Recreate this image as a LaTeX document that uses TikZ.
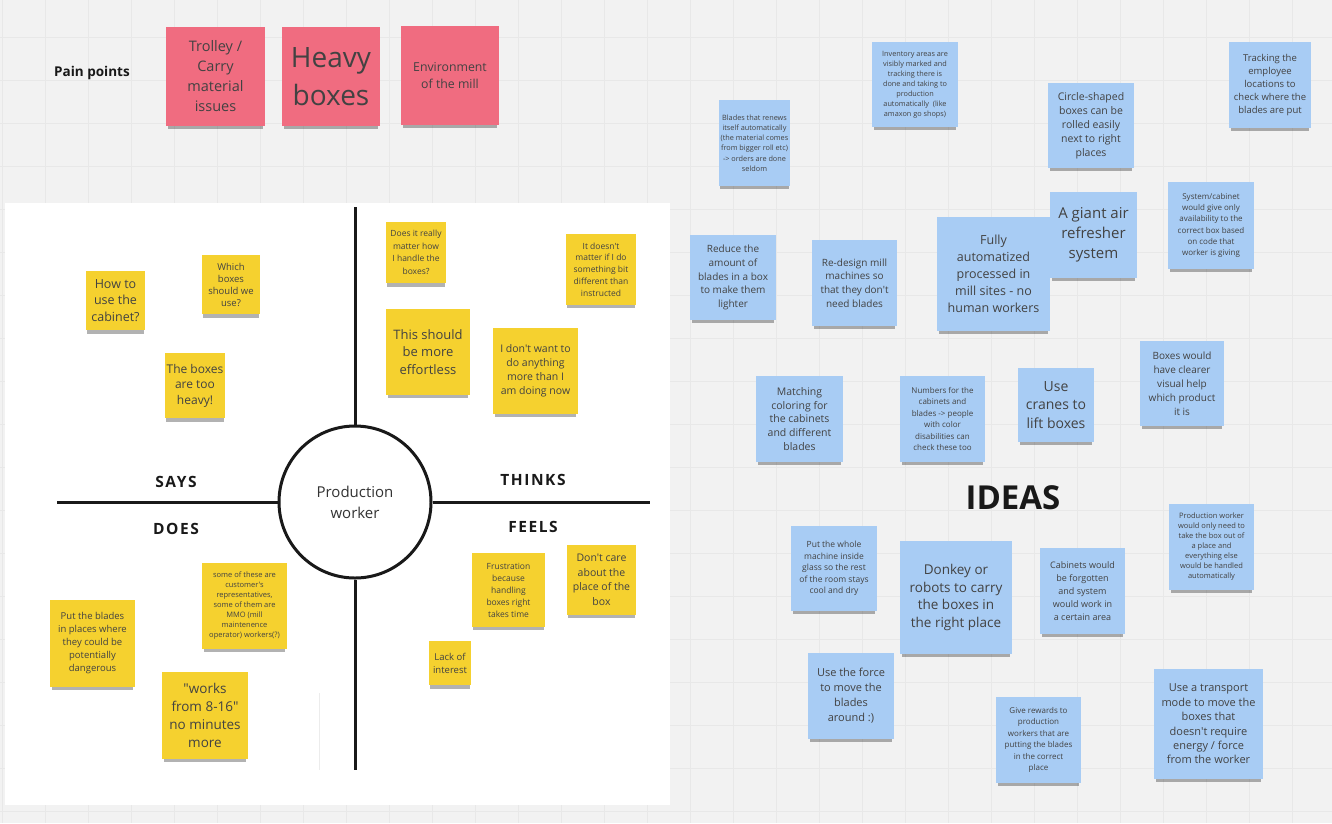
\documentclass[tikz,border=0pt]{standalone}
\usepackage{fontspec}
\setmainfont{Open Sans}[Ligatures=TeXOff]
\newfontfamily\mapfont{Open Sans}[LetterSpace=10]
\usetikzlibrary{positioning,shadows}

\definecolor{canvas}{HTML}{F2F2F2}
\definecolor{gridgray}{HTML}{E8E8E8}
\definecolor{painpink}{HTML}{F06C80}
\definecolor{noteyellow}{HTML}{F5D12F}
\definecolor{ideablue}{HTML}{A8CCF4}
\definecolor{notetext}{HTML}{424242}
\newcommand\notesize[2]{\fontsize{#1}{#2}\selectfont}

\tikzset{
  sticky/.style={inner sep=2pt, align=center, text=notetext,
    drop shadow={shadow xshift=0pt, shadow yshift=-5pt, shadow scale=0.96, opacity=0.3, fill=black}},
  pink/.style={sticky, fill=painpink},
  yel/.style={sticky, fill=noteyellow},
  blu/.style={sticky, fill=ideablue},
  sz/.style 2 args={minimum width=#1pt, minimum height=#2pt},
  mapline/.style={line width=3pt, black!90},
  maplabel/.style={font=\mapfont\bfseries\notesize{15.5}{18}, text=black!90},
}

\begin{document}
\begin{tikzpicture}[x=1pt,y=-1pt]
\useasboundingbox (0,0) rectangle (1332,823);
\fill[canvas] (0,0) rectangle (1332,823);
\foreach \gx in {2,45,...,1332} \draw[gridgray, line width=1pt] (\gx,0) -- (\gx,823);
\foreach \gy in {37,80,...,823} \draw[gridgray, line width=1pt] (0,\gy) -- (1332,\gy);

% pain points
\node[font=\bfseries\notesize{13.5}{16}, text=black!90] (pain) at (92,73) {Pain points};
\node[pink, sz={99}{99}, font=\notesize{14.5}{20}] (trolley) at (215.5,76.5) {Trolley /\\Carry\\material\\issues};
\node[pink, sz={98}{99}, font=\notesize{28}{38}] (heavy) at (331,76.5) {Heavy\\boxes};
\node[pink, sz={98}{99}, font=\notesize{12.3}{17.5}] (environ) at (450,75.5) {Environment\\of the mill};

% empathy map
\fill[white] (5,203) rectangle (670,805);
\draw[gray!15, line width=1pt] (319,693) -- (319,770);
\node[circle, draw=black!90, line width=3pt, minimum size=152pt, align=center,
  font=\notesize{15}{21}, text=black!80] (worker) at (355,502) {Production\\worker};
\coordinate (mtop) at (355,207);
\coordinate (mbottom) at (355,770);
\coordinate (mleft) at (57,502);
\coordinate (mright) at (650,502);
\draw[mapline] (worker.north) -- (mtop);
\draw[mapline] (worker.south) -- (mbottom);
\draw[mapline] (worker.west) -- (mleft);
\draw[mapline] (worker.east) -- (mright);
\node[maplabel] (says) at (176,482) {SAYS};
\node[maplabel] (does) at (176,529) {DOES};
\node[maplabel] (thinks) at (533,480) {THINKS};
\node[maplabel] (feels) at (533,527) {FEELS};

% says
\node[yel, sz={59}{59}, font=\notesize{12.5}{16.5}] (howcab) at (115.5,300.5) {How to\\use the\\cabinet?};
\node[yel, sz={58}{59}, font=\notesize{9.5}{12}] (which) at (231,284.5) {Which\\boxes\\should we\\use?};
\node[yel, sz={60}{65}, font=\notesize{12}{15.5}] (tooheavy) at (195,385.5) {The boxes\\are too\\heavy!};

% thinks
\node[yel, sz={60}{61}, font=\notesize{8.5}{12.5}] (really) at (416,252.5) {Does it really\\matter how\\I handle the\\boxes?};
\node[yel, sz={70}{71}, font=\notesize{8.5}{11.8}] (different) at (601,269.5) {It doesn't\\matter if I do\\something bit\\different than\\instructed};
\node[yel, sz={84}{86}, font=\notesize{13}{17.5}] (effortless) at (428,352) {This should\\be more\\effortless};
\node[yel, sz={85}{86}, font=\notesize{10.5}{14}] (nomore) at (535.5,371) {I don't want to\\do anything\\more than I\\am doing now};

% feels
\node[yel, sz={73}{74}, font=\notesize{8.5}{12}] (frustration) at (508.5,590) {Frustration\\because\\handling\\boxes right\\takes time};
\node[yel, sz={69}{70}, font=\notesize{10.5}{14.5}] (dontcare) at (601.5,580) {Don't care\\about the\\place of the\\box};
\node[yel, sz={42}{44}, font=\notesize{9.5}{13}] (lack) at (450,663) {Lack of\\interest};

% does
\node[yel, sz={85}{87}, font=\notesize{9.5}{13}] (danger) at (92.5,643.5) {Put the blades\\in places where\\they could be\\potentially\\dangerous};
\node[yel, sz={85}{86}, font=\notesize{7.5}{10}] (mmo) at (244.5,606) {some of these are\\customer's\\representatives,\\some of them are\\MMO (mill\\maintenence\\operator) workers(?)};
\node[yel, sz={86}{87}, font=\notesize{13.5}{18}] (hours) at (205,715.5) {"works\\from 8-16"\\no minutes\\more};

% ideas
\node[font=\bfseries\notesize{33}{40}, text=black!90] (ideas) at (1013,498) {IDEAS};
\node[blu, sz={67}{86}, font=\notesize{7.3}{10.2}] (renew) at (754.5,143) {Blades that renews\\itself automatically\\(the material comes\\from bigger roll etc)\\-> orders are done\\seldom};
\node[blu, sz={86}{85}, font=\notesize{7.3}{10}] (inventory) at (915,84.5) {Inventory areas are\\visibly marked and\\tracking there is\\done and taking to\\production\\automatically\ \ (like\\amaxon go shops)};
\node[blu, sz={86}{85}, font=\notesize{10.5}{14}] (circle) at (1091,125.5) {Circle-shaped\\boxes can be\\rolled easily\\next to right\\places};
\node[blu, sz={82}{86}, font=\notesize{9.5}{13}] (tracking) at (1270,85) {Tracking the\\employee\\locations to\\check where the\\blades are put};
\node[blu, sz={86}{87}, font=\notesize{8}{11.2}] (system) at (1211,225.5) {System/cabinet\\would give only\\availability to the\\correct box based\\on code that\\worker is giving};
\node[blu, sz={87}{86}, font=\notesize{15}{20}] (air) at (1093.5,235) {A giant air\\refresher\\system};
\node[blu, sz={113}{114}, font=\notesize{12.5}{17}] (fully) at (993.5,274) {Fully\\automatized\\processed in\\mill sites - no\\human workers};
\node[blu, sz={85}{86}, font=\notesize{10}{13.7}] (redesign) at (854.5,283) {Re-design mill\\machines so\\that they don't\\need blades};
\node[blu, sz={86}{85}, font=\notesize{10}{13.8}] (reduce) at (733,277.5) {Reduce the\\amount of\\blades in a box\\to make them\\lighter};
\node[blu, sz={87}{86}, font=\notesize{10.5}{13.7}] (matching) at (799.5,419) {Matching\\coloring for\\the cabinets\\and different\\blades};
\node[blu, sz={85}{86}, font=\notesize{8}{11.4}] (numbers) at (942.5,419) {Numbers for the\\cabinets and\\blades -> people\\with color\\disabilities can\\check these too};
\node[blu, sz={76}{74}, font=\notesize{14}{18.5}] (cranes) at (1056,405) {Use\\cranes to\\lift boxes};
\node[blu, sz={84}{85}, font=\notesize{10}{14}] (visual) at (1182,383.5) {Boxes would\\have clearer\\visual help\\which product\\it is};
\node[blu, sz={85}{86}, font=\notesize{7.5}{10}] (takeout) at (1211.5,547) {Production worker\\would only need to\\take the box out of\\a place and\\everything else\\would be handled\\automatically};
\node[blu, sz={86}{85}, font=\notesize{8.5}{11.5}] (glass) at (834,568.5) {Put the whole\\machine inside\\glass so the rest\\of the room stays\\cool and dry};
\node[blu, sz={112}{113}, font=\notesize{13.5}{17.8}] (donkey) at (956,597.5) {Donkey or\\robots to carry\\the boxes in\\the right place};
\node[blu, sz={85}{86}, font=\notesize{9}{13}] (forgotten) at (1082.5,591) {Cabinets would\\be forgotten\\and system\\would work in\\a certain area};
\node[blu, sz={86}{86}, font=\notesize{11}{15}] (force) at (851,696) {Use the force\\to move the\\blades\\around :)};
\node[blu, sz={85}{86}, font=\notesize{8}{11.4}] (rewards) at (1038.5,740) {Give rewards to\\production\\workers that are\\putting the blades\\in the correct\\place};
\node[blu, sz={109}{110}, font=\notesize{11}{14.4}] (transport) at (1208.5,724) {Use a transport\\mode to move the\\boxes that\\doesn't require\\energy / force\\from the worker};
\end{tikzpicture}
\end{document}
